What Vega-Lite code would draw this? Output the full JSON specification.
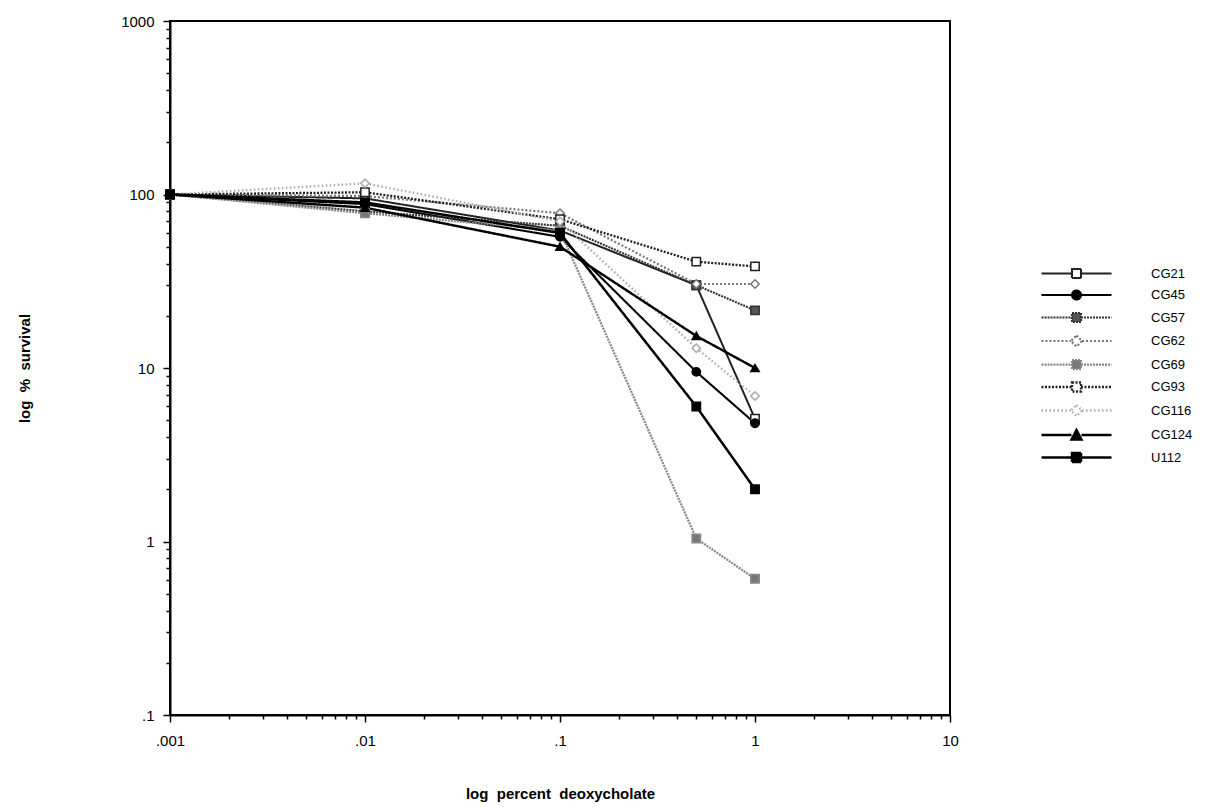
{
  "$schema": "https://vega.github.io/schema/vega-lite/v6.json",
  "width": 780,
  "height": 694,
  "autosize": "none",
  "padding": {"left": 170, "top": 21, "right": 276, "bottom": 92},
  "background": "white",
  "config": {
    "view": {"stroke": "black", "strokeWidth": 2},
    "font": "Liberation Sans",
    "axis": {
      "domainColor": "black", "domainWidth": 2, "tickColor": "black", "tickWidth": 1.5,
      "labelFont": "Liberation Sans", "labelFontSize": 15, "labelColor": "black",
      "titleFont": "Liberation Sans", "titleFontSize": 15, "titleFontWeight": "bold", "titleColor": "black",
      "grid": false, "labelOverlap": false, "labelFlush": false
    },
    "legend": {"labelFont": "Liberation Sans", "labelFontSize": 13, "labelColor": "black", "padding": 0}
  },
  "data": {"values": [
    {"series": "CG21", "x": 0.001, "y": 100}, {"series": "CG21", "x": 0.01, "y": 95}, {"series": "CG21", "x": 0.1, "y": 62}, {"series": "CG21", "x": 0.5, "y": 30}, {"series": "CG21", "x": 1, "y": 5.1},
    {"series": "CG45", "x": 0.001, "y": 100}, {"series": "CG45", "x": 0.01, "y": 88}, {"series": "CG45", "x": 0.1, "y": 57}, {"series": "CG45", "x": 0.5, "y": 9.5}, {"series": "CG45", "x": 1, "y": 4.8},
    {"series": "CG57", "x": 0.001, "y": 100}, {"series": "CG57", "x": 0.01, "y": 80}, {"series": "CG57", "x": 0.1, "y": 66}, {"series": "CG57", "x": 0.5, "y": 30}, {"series": "CG57", "x": 1, "y": 21.5},
    {"series": "CG62", "x": 0.001, "y": 100}, {"series": "CG62", "x": 0.01, "y": 98}, {"series": "CG62", "x": 0.1, "y": 78}, {"series": "CG62", "x": 0.5, "y": 30.5}, {"series": "CG62", "x": 1, "y": 30.5},
    {"series": "CG69", "x": 0.001, "y": 100}, {"series": "CG69", "x": 0.01, "y": 78}, {"series": "CG69", "x": 0.1, "y": 62}, {"series": "CG69", "x": 0.5, "y": 1.04}, {"series": "CG69", "x": 1, "y": 0.61},
    {"series": "CG93", "x": 0.001, "y": 100}, {"series": "CG93", "x": 0.01, "y": 103}, {"series": "CG93", "x": 0.1, "y": 72}, {"series": "CG93", "x": 0.5, "y": 41}, {"series": "CG93", "x": 1, "y": 38.5},
    {"series": "CG116", "x": 0.001, "y": 100}, {"series": "CG116", "x": 0.01, "y": 116}, {"series": "CG116", "x": 0.1, "y": 70}, {"series": "CG116", "x": 0.5, "y": 13}, {"series": "CG116", "x": 1, "y": 6.9},
    {"series": "CG124", "x": 0.001, "y": 100}, {"series": "CG124", "x": 0.01, "y": 84}, {"series": "CG124", "x": 0.1, "y": 50}, {"series": "CG124", "x": 0.5, "y": 15.3}, {"series": "CG124", "x": 1, "y": 10},
    {"series": "U112", "x": 0.001, "y": 100}, {"series": "U112", "x": 0.01, "y": 90}, {"series": "U112", "x": 0.1, "y": 60}, {"series": "U112", "x": 0.5, "y": 6}, {"series": "U112", "x": 1, "y": 2}
  ]},
  "encoding": {
    "x": {
      "field": "x", "type": "quantitative",
      "scale": {"type": "log", "domain": [0.001, 10], "nice": false},
      "axis": {
        "title": "log\u00a0\u00a0percent\u00a0\u00a0deoxycholate",
        "values": [0.001,0.002,0.003,0.004,0.005,0.006,0.007,0.008,0.009,0.01,0.02,0.03,0.04,0.05,0.06,0.07,0.08,0.09,0.1,0.2,0.3,0.4,0.5,0.6,0.7,0.8,0.9,1,2,3,4,5,6,7,8,9,10],
        "labelExpr": "indexof([0.001,0.01,0.1,1,10], datum.value) >= 0 ? replace(toString(datum.value), '0.', '.') : ''",
        "tickSize": {"condition": {"test": "indexof([0.001,0.01,0.1,1,10], datum.value) >= 0", "value": 7}, "value": 4},
        "labelFontSize": 15,
        "labelPadding": 11,
        "titlePadding": 38
      }
    },
    "y": {
      "field": "y", "type": "quantitative",
      "scale": {"type": "log", "domain": [0.1, 1000], "nice": false},
      "axis": {
        "title": "log\u00a0\u00a0%\u00a0\u00a0survival",
        "values": [0.1,0.2,0.3,0.4,0.5,0.6,0.7,0.8,0.9,1,2,3,4,5,6,7,8,9,10,20,30,40,50,60,70,80,90,100,200,300,400,500,600,700,800,900,1000],
        "labelExpr": "indexof([0.1,1,10,100,1000], datum.value) >= 0 ? replace(toString(datum.value), '0.', '.') : ''",
        "tickSize": {"condition": {"test": "indexof([0.1,1,10,100,1000], datum.value) >= 0", "value": 7}, "value": 4},
        "labelFontSize": 15,
        "labelPadding": 9,
        "titlePadding": 88
      }
    }
  },
  "layer": [
    {
      "mark": {"type": "line", "clip": false},
      "encoding": {
        "color": {"field": "series", "type": "nominal", "legend": null,
          "scale": {"domain": ["CG21","CG45","CG57","CG62","CG69","CG93","CG116","CG124","U112"],
                    "range": ["#222222","#000000","#333333","#777777","#888888","#222222","#aaaaaa","#000000","#000000"]}},
        "strokeDash": {"field": "series", "type": "nominal", "legend": null,
          "scale": {"domain": ["CG21","CG45","CG57","CG62","CG69","CG93","CG116","CG124","U112"],
                    "range": [[1,0],[1,0],[2,1],[2,2],[2,1],[2,1.5],[1.5,2.5],[1,0],[1,0]]}},
        "strokeWidth": {"field": "series", "type": "nominal", "legend": null,
          "scale": {"domain": ["CG21","CG45","CG57","CG62","CG69","CG93","CG116","CG124","U112"],
                    "range": [2,2.5,2,2,2,2.5,1.5,2,2]}}
      }
    },
    {
      "mark": {"type": "point", "filled": false, "opacity": 1, "size": 70, "strokeWidth": 1.5},
      "encoding": {
        "color": {"field": "series", "type": "nominal", "legend": null},
        "fill": {"field": "series", "type": "nominal", "legend": null,
          "scale": {"domain": ["CG21","CG45","CG57","CG62","CG69","CG93","CG116","CG124","U112"],
                    "range": ["#ffffff","#000000","#555555","#ffffff","#777777","#ffffff","#ffffff","#000000","#000000"]}},
        "shape": {"field": "series", "type": "nominal", "legend": null,
          "scale": {"domain": ["CG21","CG45","CG57","CG62","CG69","CG93","CG116","CG124","U112"],
                    "range": ["square","circle","square","diamond","square","square","diamond","triangle-up","square"]}}
      }
    },
    {
      "transform": [{"filter": "false"}],
      "mark": {"type": "point", "filled": false, "opacity": 1, "size": 100},
      "encoding": {
        "shape": {"field": "series", "type": "nominal",
          "scale": {"domain": ["CG21","CG45","CG57","CG62","CG69","CG93","CG116","CG124","U112"],
                    "range": [
                      "M-7,0H-0.9M0.9,0H7M-0.9,-0.9H0.9V0.9H-0.9Z",
                      "M-7,0H-0.9M0.9,0H7M-0.9,0A0.9,0.9 0 1,0 0.9,0A0.9,0.9 0 1,0 -0.9,0Z",
                      "M-7,0H-0.9M0.9,0H7M-0.9,-0.9H0.9V0.9H-0.9Z",
                      "M-7,0H-1.1M1.1,0H7M0,-1.1L1.1,0L0,1.1L-1.1,0Z",
                      "M-7,0H-0.9M0.9,0H7M-0.9,-0.9H0.9V0.9H-0.9Z",
                      "M-7,0H-0.9M0.9,0H7M-0.9,-0.9H0.9V0.9H-0.9Z",
                      "M-7,0H-1.1M1.1,0H7M0,-1.1L1.1,0L0,1.1L-1.1,0Z",
                      "M-7,0H-1M1,0H7M0,-1L1,0.9H-1Z",
                      "M-7,0H-0.9M0.9,0H7M-0.9,-0.9H0.9V0.9H-0.9Z"
                    ]},
          "legend": {"title": null, "orient": "none", "legendX": 900, "legendY": 246, "labelOffset": 68, "rowPadding": 3.5, "symbolSize": 100, "labelFontSize": 13}},
        "color": {"field": "series", "type": "nominal",
          "legend": {"title": null, "orient": "none", "legendX": 900, "legendY": 246, "labelOffset": 68, "rowPadding": 3.5, "symbolSize": 100, "labelFontSize": 13}},
        "fill": {"field": "series", "type": "nominal",
          "legend": {"title": null, "orient": "none", "legendX": 900, "legendY": 246, "labelOffset": 68, "rowPadding": 3.5, "symbolSize": 100, "labelFontSize": 13}},
        "strokeDash": {"field": "series", "type": "nominal",
          "legend": {"title": null, "orient": "none", "legendX": 900, "legendY": 246, "labelOffset": 68, "rowPadding": 3.5, "symbolSize": 100, "labelFontSize": 13}},
        "strokeWidth": {"field": "series", "type": "nominal",
          "legend": {"title": null, "orient": "none", "legendX": 900, "legendY": 246, "labelOffset": 68, "rowPadding": 3.5, "symbolSize": 100, "labelFontSize": 13}}
      }
    }
  ],
  "resolve": {
    "scale": {"shape": "independent"},
    "legend": {"shape": "independent", "color": "independent", "fill": "independent", "strokeDash": "independent", "strokeWidth": "independent"}
  }
}
